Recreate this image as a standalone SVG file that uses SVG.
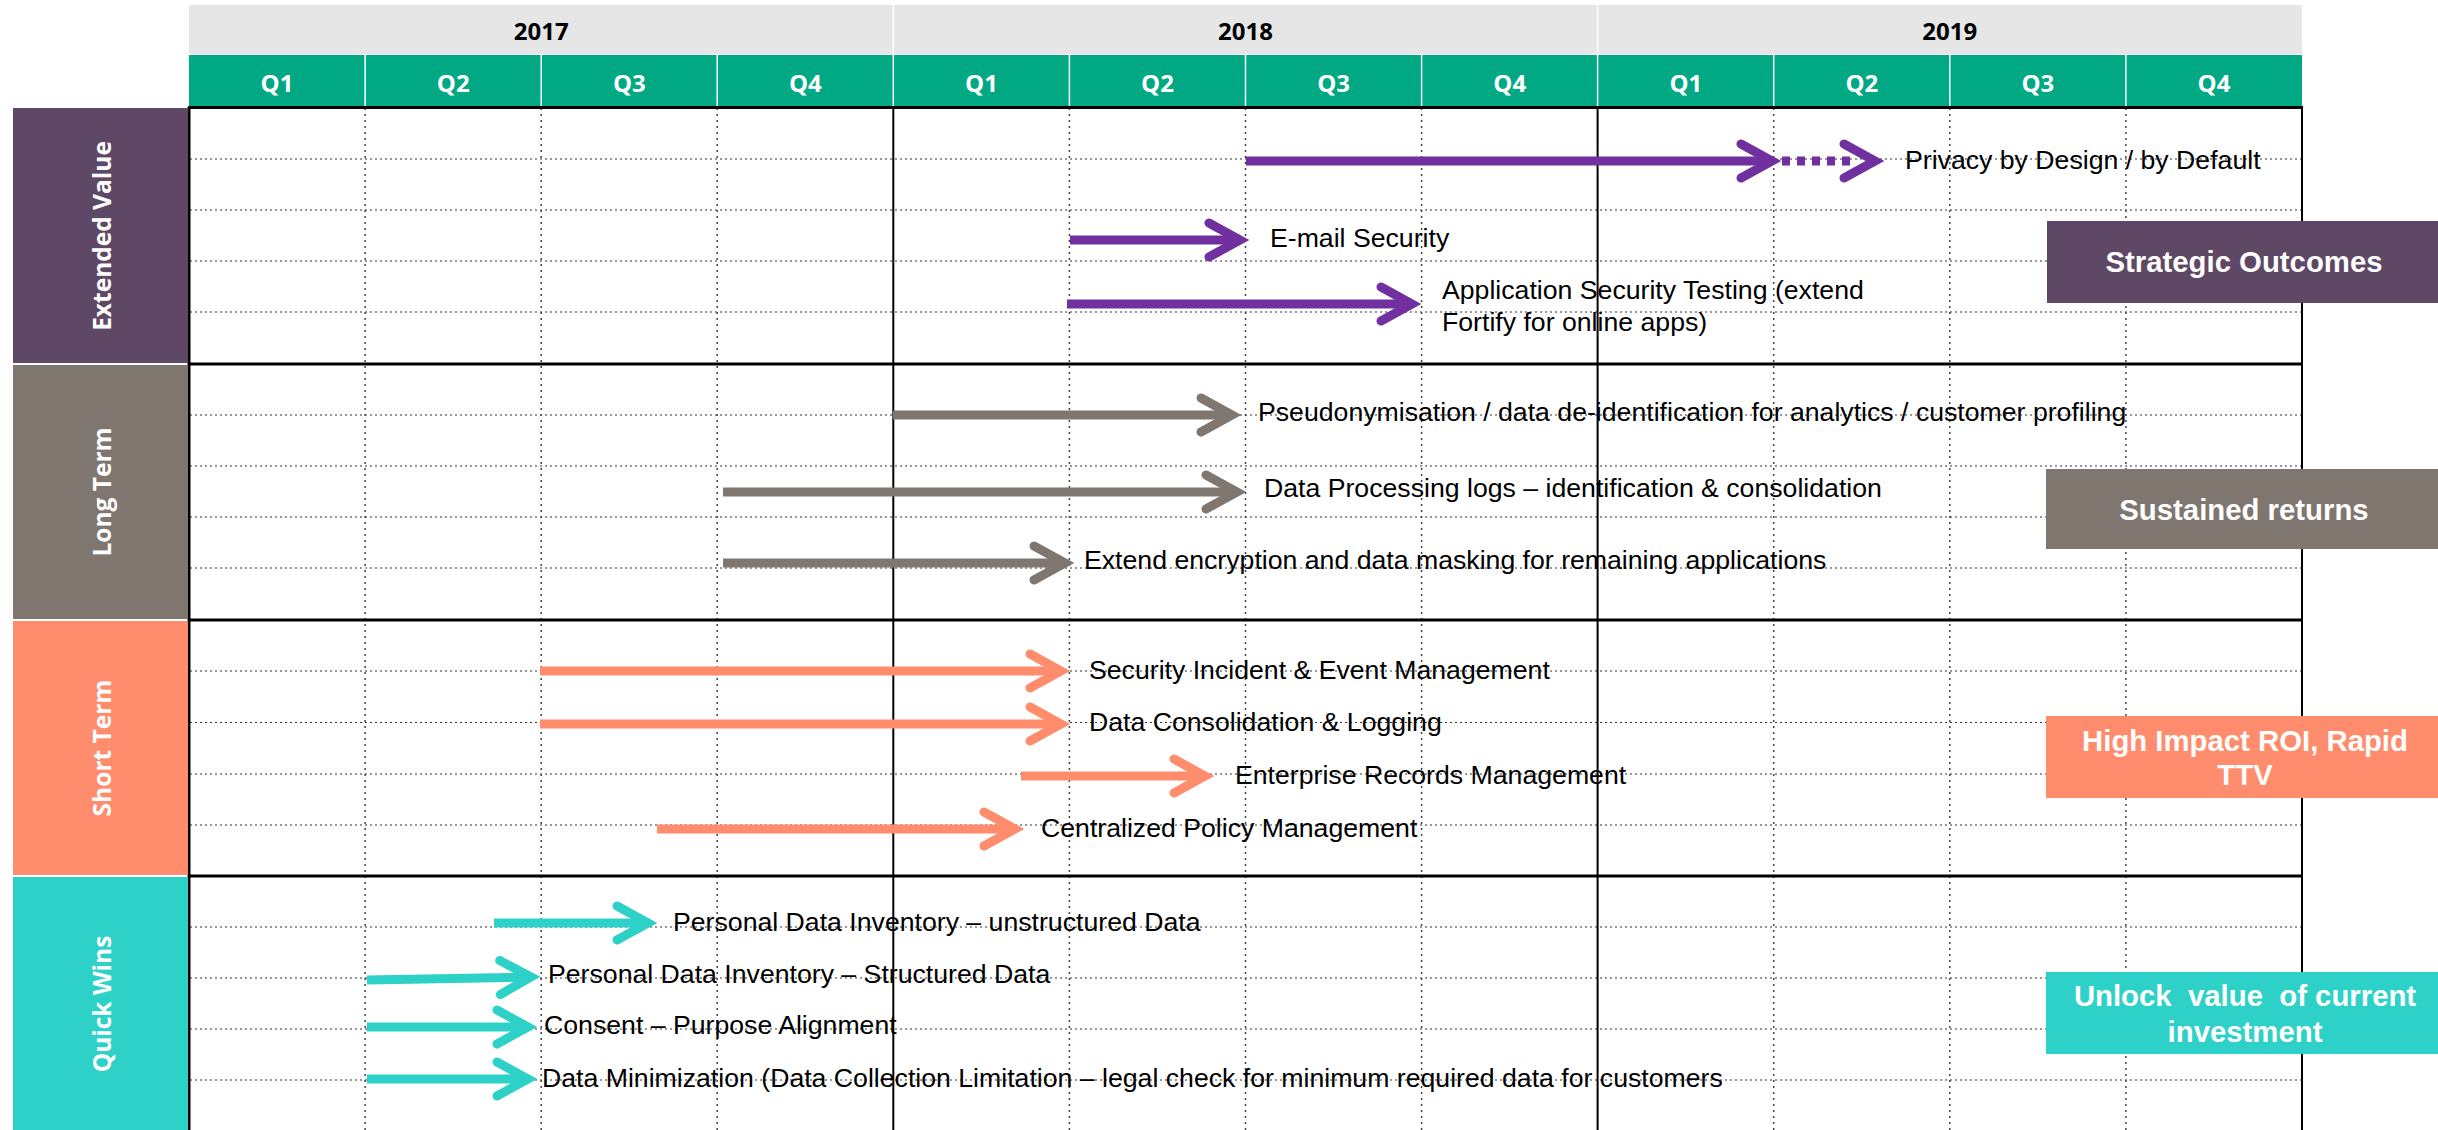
<svg xmlns="http://www.w3.org/2000/svg" width="2438" height="1130" viewBox="0 0 2438 1130">
<style>
.yr{fill:#E6E6E6}
.qr{fill:#00A884}
.hd{font-family:"Open Sans","Liberation Sans",sans-serif;font-weight:bold;font-size:24px;text-anchor:middle}
.yt{fill:#000}
.qt{fill:#fff}
.sep{stroke:#fff;stroke-width:1.5}
.hdot{stroke:#333;stroke-width:1.2;stroke-dasharray:2 3;fill:none}
.vdot{stroke:#444;stroke-width:1.5;stroke-dasharray:2 4;fill:none}
.thick{stroke:#000;stroke-width:3}
.yl{stroke:#000;stroke-width:2}
.lane{font-family:"Open Sans","Liberation Sans",sans-serif;font-weight:bold;font-size:24.5px;fill:#fff;text-anchor:middle}
.task{font-family:"Liberation Sans",Arial,sans-serif;font-size:26.67px;fill:#000}
.out{font-family:"Liberation Sans",Arial,sans-serif;font-weight:bold;font-size:29.33px;fill:#fff;text-anchor:middle;white-space:pre}
.ar{fill:none;stroke-width:9}
.p{stroke:#7030A0}.g{stroke:#7F7670}.s{stroke:#FF8C6C}.t{stroke:#2DD1C8}
.fp{fill:#5F4766}.fg{fill:#7F7670}.fs{fill:#FF8C6C}.ft{fill:#2DD1C8}
</style>
<defs>
<marker id="mp" markerUnits="userSpaceOnUse" orient="auto" refX="0" refY="0" markerWidth="80" markerHeight="80" style="overflow:visible"><path d="M-31,-17 L0,0 L-31,17" fill="none" stroke="#7030A0" stroke-width="9" stroke-linecap="round"/></marker>
<marker id="mg" markerUnits="userSpaceOnUse" orient="auto" refX="0" refY="0" markerWidth="80" markerHeight="80" style="overflow:visible"><path d="M-31,-17 L0,0 L-31,17" fill="none" stroke="#7F7670" stroke-width="9" stroke-linecap="round"/></marker>
<marker id="ms" markerUnits="userSpaceOnUse" orient="auto" refX="0" refY="0" markerWidth="80" markerHeight="80" style="overflow:visible"><path d="M-31,-17 L0,0 L-31,17" fill="none" stroke="#FF8C6C" stroke-width="9" stroke-linecap="round"/></marker>
<marker id="mt" markerUnits="userSpaceOnUse" orient="auto" refX="0" refY="0" markerWidth="80" markerHeight="80" style="overflow:visible"><path d="M-31,-17 L0,0 L-31,17" fill="none" stroke="#2DD1C8" stroke-width="9" stroke-linecap="round"/></marker>
</defs>
<rect width="2438" height="1130" fill="#fff"/>

<g id="header">
<rect class="yr" x="189" y="5" width="2113" height="49"/>
<rect class="qr" x="189" y="55" width="2113" height="52"/>
<line class="sep" x1="893.3" y1="5" x2="893.3" y2="54"/>
<line class="sep" x1="1597.6" y1="5" x2="1597.6" y2="54"/>
<g class="sep">
<line x1="365.1" y1="55" x2="365.1" y2="107"/><line x1="541.2" y1="55" x2="541.2" y2="107"/><line x1="717.2" y1="55" x2="717.2" y2="107"/><line x1="893.3" y1="55" x2="893.3" y2="107"/><line x1="1069.4" y1="55" x2="1069.4" y2="107"/><line x1="1245.5" y1="55" x2="1245.5" y2="107"/><line x1="1421.6" y1="55" x2="1421.6" y2="107"/><line x1="1597.6" y1="55" x2="1597.6" y2="107"/><line x1="1773.7" y1="55" x2="1773.7" y2="107"/><line x1="1949.8" y1="55" x2="1949.8" y2="107"/><line x1="2125.9" y1="55" x2="2125.9" y2="107"/>
</g>
<g class="hd yt">
<text x="541.2" y="40">2017</text><text x="1245.5" y="40">2018</text><text x="1949.8" y="40">2019</text>
</g>
<g class="hd qt">
<text x="277" y="92">Q1</text><text x="453.2" y="92">Q2</text><text x="629.3" y="92">Q3</text><text x="805.4" y="92">Q4</text>
<text x="981.5" y="92">Q1</text><text x="1157.5" y="92">Q2</text><text x="1333.6" y="92">Q3</text><text x="1509.7" y="92">Q4</text>
<text x="1685.8" y="92">Q1</text><text x="1861.8" y="92">Q2</text><text x="2037.9" y="92">Q3</text><text x="2214" y="92">Q4</text>
</g>
</g>

<g id="grid">
<g class="hdot">
<path d="M190,159H2301M190,210H2301M190,261H2301M190,312H2301M190,415H2301M190,466H2301M190,517H2301M190,568H2301M190,671H2301M190,722.5H2301M190,774H2301M190,825H2301M190,927H2301M190,978H2301M190,1029H2301M190,1080H2301"/>
</g>
<g class="vdot">
<path d="M365.1,108V1130M541.2,108V1130M717.2,108V1130M1069.4,108V1130M1245.5,108V1130M1421.6,108V1130M1773.7,108V1130M1949.8,108V1130M2125.9,108V1130"/>
</g>
<g class="yl">
<line x1="893.3" y1="107" x2="893.3" y2="1130"/><line x1="1597.6" y1="107" x2="1597.6" y2="1130"/><line x1="2302" y1="107" x2="2302" y2="1130"/>
</g>
<g class="thick">
<line x1="189" y1="107" x2="189" y2="1130"/>
<line x1="188" y1="107.5" x2="2303" y2="107.5"/><line x1="188" y1="364" x2="2303" y2="364"/><line x1="188" y1="620" x2="2303" y2="620"/><line x1="188" y1="876" x2="2303" y2="876"/>
</g>
</g>

<g id="lane-extended-value"><rect class="fp" x="13" y="108" width="175" height="255"/><text class="lane" transform="translate(111,236) rotate(-90)">Extended Value</text></g>
<g id="lane-long-term"><rect class="fg" x="13" y="365" width="175" height="254"/><text class="lane" transform="translate(111,492) rotate(-90)">Long Term</text></g>
<g id="lane-short-term"><rect class="fs" x="13" y="621" width="175" height="254"/><text class="lane" transform="translate(111,748) rotate(-90)">Short Term</text></g>
<g id="lane-quick-wins"><rect class="ft" x="13" y="877" width="175" height="253"/><text class="lane" transform="translate(111,1004) rotate(-90)">Quick Wins</text></g>

<g id="connectors">
<path class="ar p" d="M1246,161H1772" marker-end="url(#mp)"/>
<path class="ar p" d="M1782,161H1875" stroke-dasharray="8 7 8 7 8 7 8 7 8 100" marker-end="url(#mp)"/>
<path class="ar p" d="M1070,240H1240" marker-end="url(#mp)"/>
<path class="ar p" d="M1067,304H1412" marker-end="url(#mp)"/>
<path class="ar g" d="M893,415H1232" marker-end="url(#mg)"/>
<path class="ar g" d="M723,492H1237" marker-end="url(#mg)"/>
<path class="ar g" d="M723,563H1065" marker-end="url(#mg)"/>
<path class="ar s" d="M540,671H1061" marker-end="url(#ms)"/>
<path class="ar s" d="M540,724H1061" marker-end="url(#ms)"/>
<path class="ar s" d="M1021,776H1205" marker-end="url(#ms)"/>
<path class="ar s" d="M657,829H1015" marker-end="url(#ms)"/>
<path class="ar t" d="M494,923H648" marker-end="url(#mt)"/>
<path class="ar t" d="M367,980L531,977" marker-end="url(#mt)"/>
<path class="ar t" d="M367,1027H528" marker-end="url(#mt)"/>
<path class="ar t" d="M367,1079H528" marker-end="url(#mt)"/>
</g>

<g id="task-privacy"><text class="task" x="1905" y="169">Privacy by Design / by Default</text></g>
<g id="task-email"><text class="task" x="1270" y="247">E-mail Security</text></g>
<g id="task-appsec"><text class="task" x="1442" y="299">Application Security Testing (extend</text><text class="task" x="1442" y="331">Fortify for online apps)</text></g>
<g id="task-pseudo"><text class="task" x="1258" y="421">Pseudonymisation / data de-identification for analytics / customer profiling</text></g>
<g id="task-dpl"><text class="task" x="1264" y="497">Data Processing logs – identification &amp; consolidation</text></g>
<g id="task-encrypt"><text class="task" x="1084" y="569">Extend encryption and data masking for remaining applications</text></g>
<g id="task-siem"><text class="task" x="1089" y="679">Security Incident &amp; Event Management</text></g>
<g id="task-consolidation"><text class="task" x="1089" y="731">Data Consolidation &amp; Logging</text></g>
<g id="task-erm"><text class="task" x="1235" y="784">Enterprise Records Management</text></g>
<g id="task-policy"><text class="task" x="1041" y="837">Centralized Policy Management</text></g>
<g id="task-pdi-unstructured"><text class="task" x="673" y="931">Personal Data Inventory – unstructured Data</text></g>
<g id="task-pdi-structured"><text class="task" x="548" y="983">Personal Data Inventory – Structured Data</text></g>
<g id="task-consent"><text class="task" x="544" y="1034">Consent – Purpose Alignment</text></g>
<g id="task-minimization"><text class="task" x="542" y="1087">Data Minimization (Data Collection Limitation – legal check for minimum required data for customers</text></g>

<g id="outcome-strategic"><rect class="fp" x="2047" y="221" width="391" height="82"/><text class="out" x="2244" y="272">Strategic Outcomes</text></g>
<g id="outcome-sustained"><rect class="fg" x="2046" y="469" width="392" height="80"/><text class="out" x="2244" y="520">Sustained returns</text></g>
<g id="outcome-roi"><rect class="fs" x="2046" y="716" width="392" height="82"/><text class="out" x="2245" y="751">High Impact ROI, Rapid</text><text class="out" x="2245" y="785">TTV</text></g>
<g id="outcome-unlock"><rect class="ft" x="2046" y="972" width="392" height="82"/><text class="out" x="2245" y="1006">Unlock  value  of current</text><text class="out" x="2245" y="1042">investment</text></g>
</svg>
